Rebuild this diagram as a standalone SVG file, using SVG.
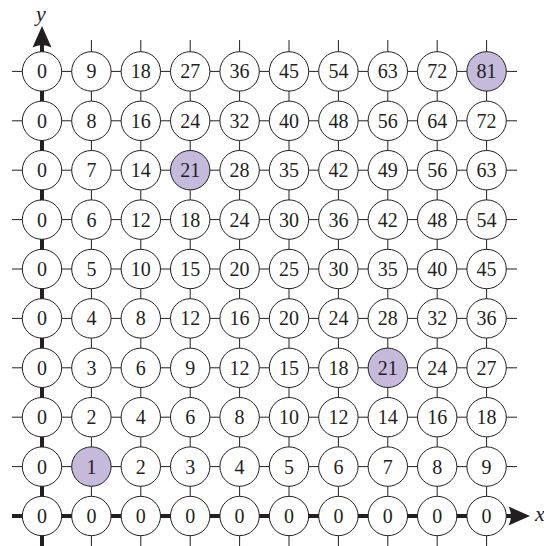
<svg xmlns="http://www.w3.org/2000/svg" width="544" height="546" viewBox="0 0 544 546">
<style>
.g{stroke:#231f20;stroke-width:1;fill:none}
.ax{stroke:#231f20;stroke-width:4;fill:none}
.ah{fill:#231f20;stroke:none}
.n circle{fill:#fff;stroke:#231f20;stroke-width:1}
.n.h circle{fill:#c5b9dc}
.n text{font-family:"Liberation Serif",serif;font-size:20px;fill:#231f20;text-anchor:middle}
.lab{font-family:"Liberation Serif",serif;font-size:22px;font-style:italic;fill:#231f20}
</style>
<g id="connectors">
<line class="g" x1="12" y1="466.6" x2="517" y2="466.6"/>
<line class="g" x1="12" y1="417.2" x2="517" y2="417.2"/>
<line class="g" x1="12" y1="367.8" x2="517" y2="367.8"/>
<line class="g" x1="12" y1="318.4" x2="517" y2="318.4"/>
<line class="g" x1="12" y1="269" x2="517" y2="269"/>
<line class="g" x1="12" y1="219.6" x2="517" y2="219.6"/>
<line class="g" x1="12" y1="170.2" x2="517" y2="170.2"/>
<line class="g" x1="12" y1="120.8" x2="517" y2="120.8"/>
<line class="g" x1="12" y1="71.4" x2="517" y2="71.4"/>
<line class="g" x1="91.4" y1="40" x2="91.4" y2="546"/>
<line class="g" x1="140.8" y1="40" x2="140.8" y2="546"/>
<line class="g" x1="190.2" y1="40" x2="190.2" y2="546"/>
<line class="g" x1="239.6" y1="40" x2="239.6" y2="546"/>
<line class="g" x1="289" y1="40" x2="289" y2="546"/>
<line class="g" x1="338.4" y1="40" x2="338.4" y2="546"/>
<line class="g" x1="387.8" y1="40" x2="387.8" y2="546"/>
<line class="g" x1="437.2" y1="40" x2="437.2" y2="546"/>
<line class="g" x1="486.6" y1="40" x2="486.6" y2="546"/>
<line class="ax" x1="12" y1="516" x2="513" y2="516"/>
<path class="ah" d="M530,516 L508.5,506.5 Q513.5,516 508.5,525.5 Z"/>
<line class="ax" x1="42" y1="546" x2="42" y2="43"/>
<path class="ah" d="M42,26 L32.5,47.5 Q42,42.5 51.5,47.5 Z"/>
</g>
<text class="lab" x="36" y="21">y</text>
<text class="lab" x="535" y="521">x</text>
<g id="n-0-9" class="n"><circle cx="42" cy="71.4" r="19.7"/><text x="42" y="78.3">0</text></g>
<g id="n-1-9" class="n"><circle cx="91.4" cy="71.4" r="19.7"/><text x="91.4" y="78.3">9</text></g>
<g id="n-2-9" class="n"><circle cx="140.8" cy="71.4" r="19.7"/><text x="140.8" y="78.3">18</text></g>
<g id="n-3-9" class="n"><circle cx="190.2" cy="71.4" r="19.7"/><text x="190.2" y="78.3">27</text></g>
<g id="n-4-9" class="n"><circle cx="239.6" cy="71.4" r="19.7"/><text x="239.6" y="78.3">36</text></g>
<g id="n-5-9" class="n"><circle cx="289" cy="71.4" r="19.7"/><text x="289" y="78.3">45</text></g>
<g id="n-6-9" class="n"><circle cx="338.4" cy="71.4" r="19.7"/><text x="338.4" y="78.3">54</text></g>
<g id="n-7-9" class="n"><circle cx="387.8" cy="71.4" r="19.7"/><text x="387.8" y="78.3">63</text></g>
<g id="n-8-9" class="n"><circle cx="437.2" cy="71.4" r="19.7"/><text x="437.2" y="78.3">72</text></g>
<g id="n-9-9" class="n h"><circle cx="486.6" cy="71.4" r="19.7"/><text x="486.6" y="78.3">81</text></g>
<g id="n-0-8" class="n"><circle cx="42" cy="120.8" r="19.7"/><text x="42" y="127.7">0</text></g>
<g id="n-1-8" class="n"><circle cx="91.4" cy="120.8" r="19.7"/><text x="91.4" y="127.7">8</text></g>
<g id="n-2-8" class="n"><circle cx="140.8" cy="120.8" r="19.7"/><text x="140.8" y="127.7">16</text></g>
<g id="n-3-8" class="n"><circle cx="190.2" cy="120.8" r="19.7"/><text x="190.2" y="127.7">24</text></g>
<g id="n-4-8" class="n"><circle cx="239.6" cy="120.8" r="19.7"/><text x="239.6" y="127.7">32</text></g>
<g id="n-5-8" class="n"><circle cx="289" cy="120.8" r="19.7"/><text x="289" y="127.7">40</text></g>
<g id="n-6-8" class="n"><circle cx="338.4" cy="120.8" r="19.7"/><text x="338.4" y="127.7">48</text></g>
<g id="n-7-8" class="n"><circle cx="387.8" cy="120.8" r="19.7"/><text x="387.8" y="127.7">56</text></g>
<g id="n-8-8" class="n"><circle cx="437.2" cy="120.8" r="19.7"/><text x="437.2" y="127.7">64</text></g>
<g id="n-9-8" class="n"><circle cx="486.6" cy="120.8" r="19.7"/><text x="486.6" y="127.7">72</text></g>
<g id="n-0-7" class="n"><circle cx="42" cy="170.2" r="19.7"/><text x="42" y="177.1">0</text></g>
<g id="n-1-7" class="n"><circle cx="91.4" cy="170.2" r="19.7"/><text x="91.4" y="177.1">7</text></g>
<g id="n-2-7" class="n"><circle cx="140.8" cy="170.2" r="19.7"/><text x="140.8" y="177.1">14</text></g>
<g id="n-3-7" class="n h"><circle cx="190.2" cy="170.2" r="19.7"/><text x="190.2" y="177.1">21</text></g>
<g id="n-4-7" class="n"><circle cx="239.6" cy="170.2" r="19.7"/><text x="239.6" y="177.1">28</text></g>
<g id="n-5-7" class="n"><circle cx="289" cy="170.2" r="19.7"/><text x="289" y="177.1">35</text></g>
<g id="n-6-7" class="n"><circle cx="338.4" cy="170.2" r="19.7"/><text x="338.4" y="177.1">42</text></g>
<g id="n-7-7" class="n"><circle cx="387.8" cy="170.2" r="19.7"/><text x="387.8" y="177.1">49</text></g>
<g id="n-8-7" class="n"><circle cx="437.2" cy="170.2" r="19.7"/><text x="437.2" y="177.1">56</text></g>
<g id="n-9-7" class="n"><circle cx="486.6" cy="170.2" r="19.7"/><text x="486.6" y="177.1">63</text></g>
<g id="n-0-6" class="n"><circle cx="42" cy="219.6" r="19.7"/><text x="42" y="226.5">0</text></g>
<g id="n-1-6" class="n"><circle cx="91.4" cy="219.6" r="19.7"/><text x="91.4" y="226.5">6</text></g>
<g id="n-2-6" class="n"><circle cx="140.8" cy="219.6" r="19.7"/><text x="140.8" y="226.5">12</text></g>
<g id="n-3-6" class="n"><circle cx="190.2" cy="219.6" r="19.7"/><text x="190.2" y="226.5">18</text></g>
<g id="n-4-6" class="n"><circle cx="239.6" cy="219.6" r="19.7"/><text x="239.6" y="226.5">24</text></g>
<g id="n-5-6" class="n"><circle cx="289" cy="219.6" r="19.7"/><text x="289" y="226.5">30</text></g>
<g id="n-6-6" class="n"><circle cx="338.4" cy="219.6" r="19.7"/><text x="338.4" y="226.5">36</text></g>
<g id="n-7-6" class="n"><circle cx="387.8" cy="219.6" r="19.7"/><text x="387.8" y="226.5">42</text></g>
<g id="n-8-6" class="n"><circle cx="437.2" cy="219.6" r="19.7"/><text x="437.2" y="226.5">48</text></g>
<g id="n-9-6" class="n"><circle cx="486.6" cy="219.6" r="19.7"/><text x="486.6" y="226.5">54</text></g>
<g id="n-0-5" class="n"><circle cx="42" cy="269" r="19.7"/><text x="42" y="275.9">0</text></g>
<g id="n-1-5" class="n"><circle cx="91.4" cy="269" r="19.7"/><text x="91.4" y="275.9">5</text></g>
<g id="n-2-5" class="n"><circle cx="140.8" cy="269" r="19.7"/><text x="140.8" y="275.9">10</text></g>
<g id="n-3-5" class="n"><circle cx="190.2" cy="269" r="19.7"/><text x="190.2" y="275.9">15</text></g>
<g id="n-4-5" class="n"><circle cx="239.6" cy="269" r="19.7"/><text x="239.6" y="275.9">20</text></g>
<g id="n-5-5" class="n"><circle cx="289" cy="269" r="19.7"/><text x="289" y="275.9">25</text></g>
<g id="n-6-5" class="n"><circle cx="338.4" cy="269" r="19.7"/><text x="338.4" y="275.9">30</text></g>
<g id="n-7-5" class="n"><circle cx="387.8" cy="269" r="19.7"/><text x="387.8" y="275.9">35</text></g>
<g id="n-8-5" class="n"><circle cx="437.2" cy="269" r="19.7"/><text x="437.2" y="275.9">40</text></g>
<g id="n-9-5" class="n"><circle cx="486.6" cy="269" r="19.7"/><text x="486.6" y="275.9">45</text></g>
<g id="n-0-4" class="n"><circle cx="42" cy="318.4" r="19.7"/><text x="42" y="325.3">0</text></g>
<g id="n-1-4" class="n"><circle cx="91.4" cy="318.4" r="19.7"/><text x="91.4" y="325.3">4</text></g>
<g id="n-2-4" class="n"><circle cx="140.8" cy="318.4" r="19.7"/><text x="140.8" y="325.3">8</text></g>
<g id="n-3-4" class="n"><circle cx="190.2" cy="318.4" r="19.7"/><text x="190.2" y="325.3">12</text></g>
<g id="n-4-4" class="n"><circle cx="239.6" cy="318.4" r="19.7"/><text x="239.6" y="325.3">16</text></g>
<g id="n-5-4" class="n"><circle cx="289" cy="318.4" r="19.7"/><text x="289" y="325.3">20</text></g>
<g id="n-6-4" class="n"><circle cx="338.4" cy="318.4" r="19.7"/><text x="338.4" y="325.3">24</text></g>
<g id="n-7-4" class="n"><circle cx="387.8" cy="318.4" r="19.7"/><text x="387.8" y="325.3">28</text></g>
<g id="n-8-4" class="n"><circle cx="437.2" cy="318.4" r="19.7"/><text x="437.2" y="325.3">32</text></g>
<g id="n-9-4" class="n"><circle cx="486.6" cy="318.4" r="19.7"/><text x="486.6" y="325.3">36</text></g>
<g id="n-0-3" class="n"><circle cx="42" cy="367.8" r="19.7"/><text x="42" y="374.7">0</text></g>
<g id="n-1-3" class="n"><circle cx="91.4" cy="367.8" r="19.7"/><text x="91.4" y="374.7">3</text></g>
<g id="n-2-3" class="n"><circle cx="140.8" cy="367.8" r="19.7"/><text x="140.8" y="374.7">6</text></g>
<g id="n-3-3" class="n"><circle cx="190.2" cy="367.8" r="19.7"/><text x="190.2" y="374.7">9</text></g>
<g id="n-4-3" class="n"><circle cx="239.6" cy="367.8" r="19.7"/><text x="239.6" y="374.7">12</text></g>
<g id="n-5-3" class="n"><circle cx="289" cy="367.8" r="19.7"/><text x="289" y="374.7">15</text></g>
<g id="n-6-3" class="n"><circle cx="338.4" cy="367.8" r="19.7"/><text x="338.4" y="374.7">18</text></g>
<g id="n-7-3" class="n h"><circle cx="387.8" cy="367.8" r="19.7"/><text x="387.8" y="374.7">21</text></g>
<g id="n-8-3" class="n"><circle cx="437.2" cy="367.8" r="19.7"/><text x="437.2" y="374.7">24</text></g>
<g id="n-9-3" class="n"><circle cx="486.6" cy="367.8" r="19.7"/><text x="486.6" y="374.7">27</text></g>
<g id="n-0-2" class="n"><circle cx="42" cy="417.2" r="19.7"/><text x="42" y="424.1">0</text></g>
<g id="n-1-2" class="n"><circle cx="91.4" cy="417.2" r="19.7"/><text x="91.4" y="424.1">2</text></g>
<g id="n-2-2" class="n"><circle cx="140.8" cy="417.2" r="19.7"/><text x="140.8" y="424.1">4</text></g>
<g id="n-3-2" class="n"><circle cx="190.2" cy="417.2" r="19.7"/><text x="190.2" y="424.1">6</text></g>
<g id="n-4-2" class="n"><circle cx="239.6" cy="417.2" r="19.7"/><text x="239.6" y="424.1">8</text></g>
<g id="n-5-2" class="n"><circle cx="289" cy="417.2" r="19.7"/><text x="289" y="424.1">10</text></g>
<g id="n-6-2" class="n"><circle cx="338.4" cy="417.2" r="19.7"/><text x="338.4" y="424.1">12</text></g>
<g id="n-7-2" class="n"><circle cx="387.8" cy="417.2" r="19.7"/><text x="387.8" y="424.1">14</text></g>
<g id="n-8-2" class="n"><circle cx="437.2" cy="417.2" r="19.7"/><text x="437.2" y="424.1">16</text></g>
<g id="n-9-2" class="n"><circle cx="486.6" cy="417.2" r="19.7"/><text x="486.6" y="424.1">18</text></g>
<g id="n-0-1" class="n"><circle cx="42" cy="466.6" r="19.7"/><text x="42" y="473.5">0</text></g>
<g id="n-1-1" class="n h"><circle cx="91.4" cy="466.6" r="19.7"/><text x="91.4" y="473.5">1</text></g>
<g id="n-2-1" class="n"><circle cx="140.8" cy="466.6" r="19.7"/><text x="140.8" y="473.5">2</text></g>
<g id="n-3-1" class="n"><circle cx="190.2" cy="466.6" r="19.7"/><text x="190.2" y="473.5">3</text></g>
<g id="n-4-1" class="n"><circle cx="239.6" cy="466.6" r="19.7"/><text x="239.6" y="473.5">4</text></g>
<g id="n-5-1" class="n"><circle cx="289" cy="466.6" r="19.7"/><text x="289" y="473.5">5</text></g>
<g id="n-6-1" class="n"><circle cx="338.4" cy="466.6" r="19.7"/><text x="338.4" y="473.5">6</text></g>
<g id="n-7-1" class="n"><circle cx="387.8" cy="466.6" r="19.7"/><text x="387.8" y="473.5">7</text></g>
<g id="n-8-1" class="n"><circle cx="437.2" cy="466.6" r="19.7"/><text x="437.2" y="473.5">8</text></g>
<g id="n-9-1" class="n"><circle cx="486.6" cy="466.6" r="19.7"/><text x="486.6" y="473.5">9</text></g>
<g id="n-0-0" class="n"><circle cx="42" cy="516" r="19.7"/><text x="42" y="522.9">0</text></g>
<g id="n-1-0" class="n"><circle cx="91.4" cy="516" r="19.7"/><text x="91.4" y="522.9">0</text></g>
<g id="n-2-0" class="n"><circle cx="140.8" cy="516" r="19.7"/><text x="140.8" y="522.9">0</text></g>
<g id="n-3-0" class="n"><circle cx="190.2" cy="516" r="19.7"/><text x="190.2" y="522.9">0</text></g>
<g id="n-4-0" class="n"><circle cx="239.6" cy="516" r="19.7"/><text x="239.6" y="522.9">0</text></g>
<g id="n-5-0" class="n"><circle cx="289" cy="516" r="19.7"/><text x="289" y="522.9">0</text></g>
<g id="n-6-0" class="n"><circle cx="338.4" cy="516" r="19.7"/><text x="338.4" y="522.9">0</text></g>
<g id="n-7-0" class="n"><circle cx="387.8" cy="516" r="19.7"/><text x="387.8" y="522.9">0</text></g>
<g id="n-8-0" class="n"><circle cx="437.2" cy="516" r="19.7"/><text x="437.2" y="522.9">0</text></g>
<g id="n-9-0" class="n"><circle cx="486.6" cy="516" r="19.7"/><text x="486.6" y="522.9">0</text></g>
</svg>
